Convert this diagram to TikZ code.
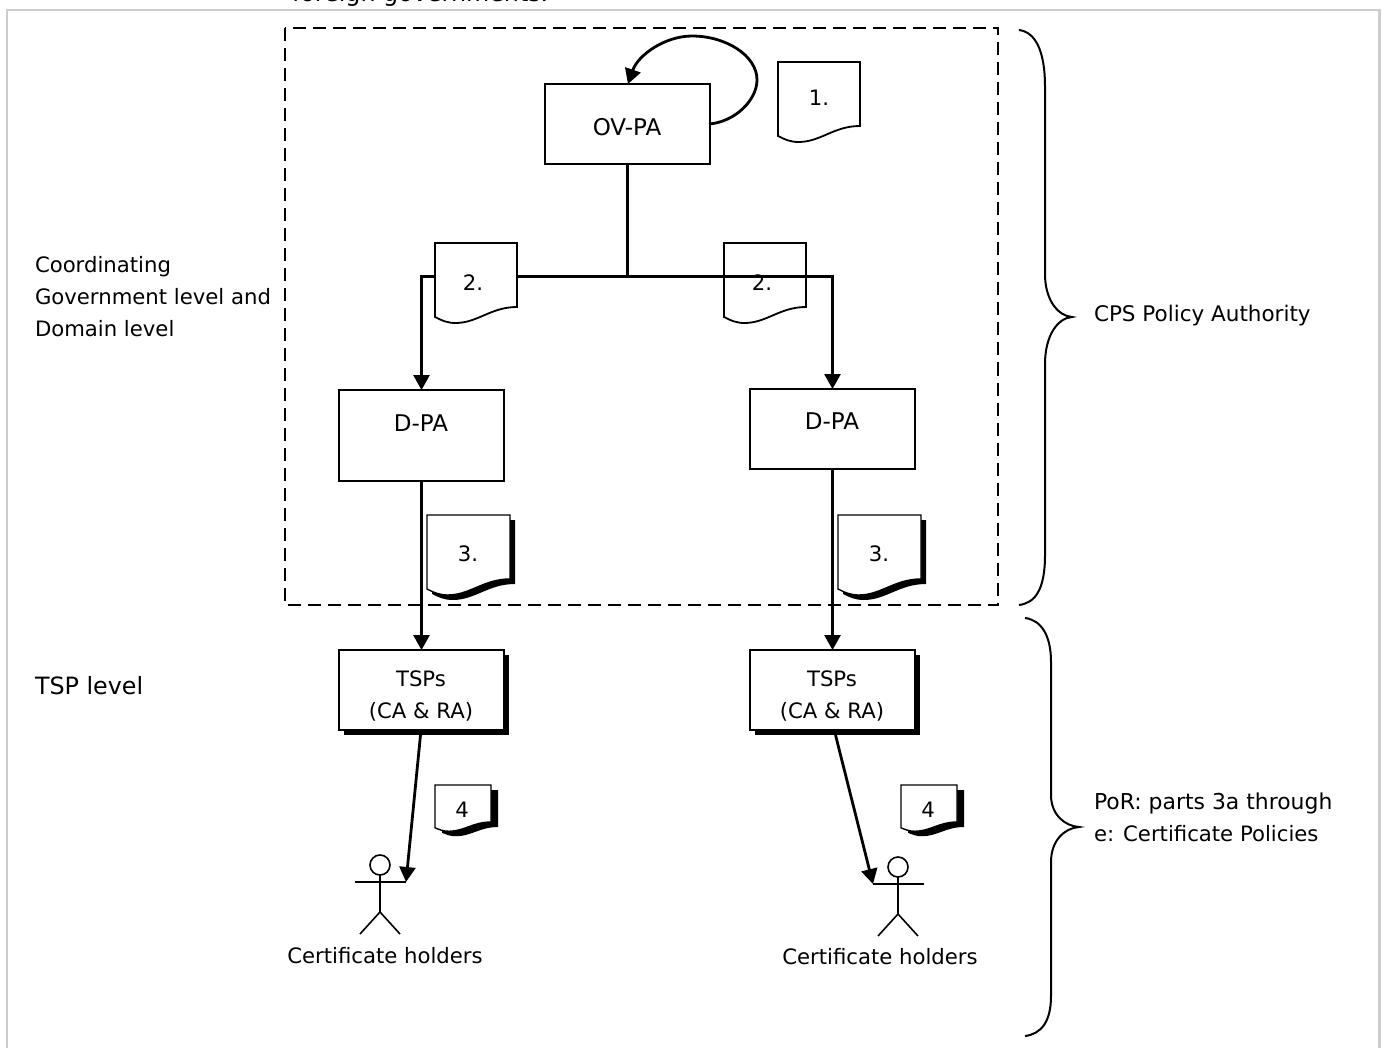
\documentclass[tikz,border=0pt]{standalone}
\usepackage{fontspec}
\setmainfont{DejaVu Sans}
\usetikzlibrary{arrows.meta}
\tikzset{
  x=1pt,y=-1pt,
  every node/.style={font=\fontsize{21.2}{25}\selectfont,inner sep=0pt,outer sep=0pt},
  txt/.style={anchor=base west,align=left},
  lbl/.style={anchor=base},
  big/.style={font=\fontsize{23.8}{25}\selectfont},
  mid/.style={font=\fontsize{23}{25}\selectfont},
  pbox/.style={draw=black,line width=2.2pt,fill=white,minimum width=165pt,anchor=north west},
  conn/.style={draw=black,line width=2.8pt,-{Triangle[length=15pt,width=16pt]}},
  plain/.style={draw=black,line width=2.8pt},
  brace/.style={draw=black,line width=2pt},
  docline/.style={draw=black,line width=1.8pt,fill=white},
  shadowfill/.style={fill=black,draw=none},
  fig/.style={draw=black,line width=1.6pt},
}
\newcommand{\docpath}[2]{%
  (0,0) -- (#1,0) -- (#1,#2) .. controls (0.68*#1,#2) and (0.52*#1,1.25*#2) .. (0.25*#1,1.25*#2) .. controls (0.15*#1,1.25*#2) and (0.08*#1,1.21*#2) .. (0,1.156*#2) -- cycle}
\begin{document}
\begin{tikzpicture}
\useasboundingbox (0,0) rectangle (1386,1048);
\fill[white] (0,0) rectangle (1386,1048);
% frame
\draw[draw=black!20,line width=2.2pt] (7,1048) -- (7,10) -- (1379.5,10) -- (1379.5,1048);
\node[txt,big] (toptext) at (292,2) {foreign governments.};
% dashed
\draw[black,line width=2pt,dash pattern=on 13pt off 7pt] (284.5,28) rectangle (998,605);
% document behind the connector
\draw[docline,shift={(724,243)}] \docpath{82}{64};
\node[lbl] (doc2b) at (762,291) {2.};
% boxes
\node[pbox,minimum height=80pt] (ov) at (545,84) {};
\node[lbl,mid] (ovt) at (627,136) {OV-PA};
\node[pbox,minimum height=91pt] (d1) at (339,390) {};
\node[lbl,mid] (d1t) at (421,431) {D-PA};
\node[pbox,minimum height=80pt] (d2) at (750,389) {};
\node[lbl,mid] (d2t) at (832,429) {D-PA};
\fill[shadowfill] (344,655) rectangle (509,735);
\fill[shadowfill] (755,655) rectangle (920,735);
\node[pbox,minimum height=80pt] (t1) at (339,650) {};
\node[pbox,minimum height=80pt] (t2) at (750,650) {};
\node[lbl] (t1a) at (421,686) {TSPs};
\node[lbl] (t1b) at (421,718) {(CA \& RA)};
\node[lbl] (t2a) at (832,686) {TSPs};
\node[lbl] (t2b) at (832,718) {(CA \& RA)};
% connectors
\coordinate (junc) at (627.5,276.5);
\draw[plain] (ov.south) -- (junc);
\draw[conn] (junc) -| (d1.north);
\draw[conn] (junc) -| (d2.north);
\draw[conn] (d1.south) -- (t1.north);
\draw[conn] (d2.south) -- (t2.north);
\draw[conn] (709,124) .. controls (735,122) and (757,100) .. (757,80) .. controls (757,55) and (725,36) .. (692,36) .. controls (665,36) and (638,55) .. (628,84);
% documents
\draw[docline,shift={(778,62)}] \docpath{82}{64};
\node[lbl] (doc1) at (819,106) {1.};
\draw[docline,shift={(435,243)}] \docpath{82}{64};
\node[lbl] (doc2a) at (473,291) {2.};
\foreach \ox in {427,838}{
  \fill[shadowfill,shift={(\ox+5,520)}] \docpath{83}{64};
  \draw[docline,line width=1.4pt,shift={(\ox,515)}] \docpath{83}{64};
}
\node[lbl] (doc3a) at (468,561) {3.};
\node[lbl] (doc3b) at (879,561) {3.};
\foreach \ox in {435,901}{
  \fill[shadowfill,shift={(\ox+7,790)}] \docpath{56}{37};
  \draw[docline,line width=1.4pt,shift={(\ox,785)}] \docpath{56}{37};
}
\node[lbl] (doc4a) at (462,817) {4};
\node[lbl] (doc4b) at (928,817) {4};
% stick figures
\coordinate (hand1) at (406,882);
\coordinate (hand2) at (873,884);
\draw[conn] ([xshift=-1pt,yshift=-5pt]t1.south) -- (hand1);
\draw[conn] ([xshift=3pt,yshift=-5pt]t2.south) -- (hand2);
\foreach \cx/\cy in {380/865,898/867}{
  \draw[fig,fill=white] (\cx,\cy) circle (10);
  \draw[fig] (\cx,\cy+10) -- (\cx,\cy+47) -- (\cx-20,\cy+69) (\cx,\cy+47) -- (\cx+20,\cy+69);
  \draw[fig] (\cx-25,\cy+17) -- (\cx+26,\cy+17);
}
\node[lbl] (holders1) at (385,963) {Certificate holders};
\node[lbl] (holders2) at (880,964) {Certificate holders};
% braces
\draw[brace] (1019,30) .. controls (1035,32) and (1045,50) .. (1045,87) -- (1045,274) .. controls (1045,300) and (1058,316) .. (1072,317) .. controls (1058,318) and (1045,335) .. (1045,364) -- (1045,555) .. controls (1045,590) and (1035,603) .. (1019,605);
\draw[brace] (1025,618) .. controls (1041,620) and (1051,635) .. (1051,662) -- (1051,795) .. controls (1051,815) and (1065,826) .. (1079,827) .. controls (1065,828) and (1051,840) .. (1051,862) -- (1051,996) .. controls (1051,1022) and (1041,1034) .. (1025,1036);
% labels
\node[txt] (lab1) at (35,273) {Coordinating};
\node[txt] (lab2) at (35,305) {Government level and};
\node[txt] (lab3) at (35,337) {Domain level};
\node[txt,big] (lab4) at (35,694) {TSP level};
\node[txt,font=\fontsize{21.5}{25}\selectfont] (lab5) at (1094,322) {CPS Policy Authority};
\node[txt,font=\fontsize{21.9}{25}\selectfont] (lab6) at (1094,809) {PoR: parts 3a through};
\node[txt] (lab7) at (1094,841) {e: Certificate Policies};
\end{tikzpicture}
\end{document}
